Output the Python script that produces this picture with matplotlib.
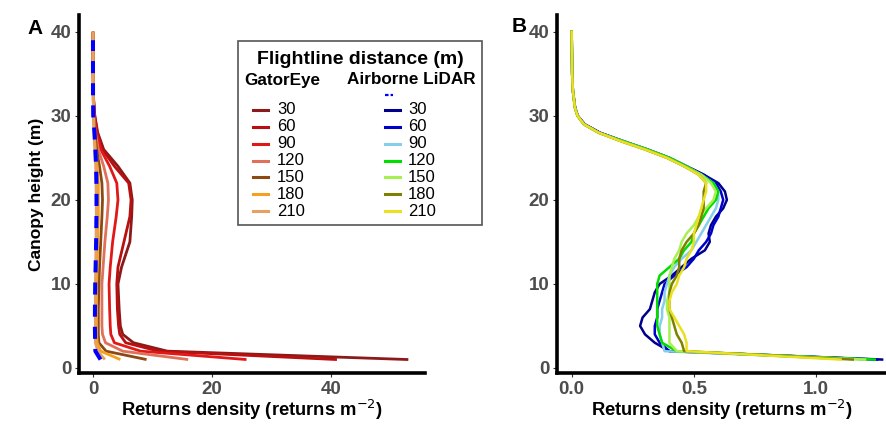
import numpy as np
import matplotlib
matplotlib.use("Agg")
import matplotlib.pyplot as plt
from matplotlib.lines import Line2D
from matplotlib.patches import Rectangle

plt.rcParams['font.family'] = ['Liberation Sans', 'DejaVu Sans']

# ---- data -------------------------------------------------------------
distances = ["30", "60", "90", "120", "150", "180", "210"]

# panel A: GatorEye profiles
heights_a = [1, 2, 3, 4, 5, 7, 10, 12, 15, 18, 20, 22, 24, 26, 28, 30, 32, 35, 40]
gator = {
    "30":  [53.0, 12.5, 6.8, 5.0, 4.6, 4.4, 4.2, 4.8, 6.2, 6.5, 6.6, 6.2, 4.2, 1.8, 0.8, 0.3, 0.1, 0.05, 0.02],
    "60":  [41.0, 11.0, 5.5, 4.5, 4.3, 4.1, 4.0, 4.2, 5.2, 6.2, 6.4, 6.0, 3.6, 1.6, 0.7, 0.3, 0.1, 0.05, 0.02],
    "90":  [25.8, 8.0, 3.6, 3.0, 2.9, 2.8, 2.7, 2.9, 3.3, 3.9, 4.2, 4.0, 2.8, 1.3, 0.6, 0.2, 0.08, 0.04, 0.02],
    "120": [16.0, 5.0, 2.1, 1.6, 1.5, 1.5, 1.5, 1.7, 2.0, 2.4, 2.6, 2.5, 1.8, 0.9, 0.4, 0.15, 0.06, 0.03, 0.02],
    "150": [9.0, 2.2, 1.0, 0.9, 0.9, 0.9, 1.0, 1.1, 1.3, 1.5, 1.6, 1.5, 1.1, 0.6, 0.3, 0.12, 0.05, 0.03, 0.02],
    "180": [4.6, 1.3, 0.7, 0.6, 0.6, 0.6, 0.6, 0.7, 0.8, 0.9, 0.9, 0.9, 0.7, 0.4, 0.2, 0.1, 0.05, 0.03, 0.02],
    "210": [2.0, 0.8, 0.4, 0.4, 0.4, 0.4, 0.4, 0.45, 0.5, 0.55, 0.55, 0.5, 0.45, 0.3, 0.15, 0.08, 0.04, 0.03, 0.02],
}
# mean airborne LiDAR profile shown dashed in panel A
heights_als = [1, 2, 3, 4, 5, 7, 10, 12, 15, 18, 20, 22, 24, 26, 28, 30, 32, 35, 39]
als_mean = [1.27, 0.40, 0.36, 0.34, 0.32, 0.33, 0.37, 0.44, 0.53, 0.58, 0.60, 0.58, 0.52, 0.40, 0.25, 0.04, 0.01, 0.0, 0.0]

# panel B: airborne LiDAR profiles
heights_b = [1, 2, 3, 4, 5, 6, 7, 8, 9, 10, 11, 12, 13, 14, 15, 16, 17, 18, 19, 20,
             21, 22, 23, 24, 25, 26, 27, 28, 29, 30, 31, 33, 35, 40]
lidar = {
    "30":  [1.27, 0.40, 0.34, 0.30, 0.28, 0.29, 0.32, 0.33, 0.34, 0.36, 0.41, 0.45, 0.49, 0.545, 0.565, 0.56, 0.57, 0.59, 0.62, 0.635,
            0.627, 0.60, 0.54, 0.47, 0.40, 0.31, 0.21, 0.115, 0.053, 0.025, 0.014, 0.005, 0.002, 0.0],
    "60":  [1.25, 0.40, 0.36, 0.34, 0.34, 0.35, 0.35, 0.36, 0.37, 0.38, 0.42, 0.47, 0.50, 0.52, 0.55, 0.57, 0.58, 0.60, 0.61, 0.62,
            0.61, 0.59, 0.54, 0.47, 0.40, 0.31, 0.21, 0.115, 0.053, 0.025, 0.014, 0.005, 0.002, 0.0],
    "90":  [1.20, 0.38, 0.37, 0.36, 0.36, 0.37, 0.37, 0.38, 0.38, 0.39, 0.40, 0.42, 0.45, 0.49, 0.51, 0.53, 0.55, 0.57, 0.59, 0.60,
            0.60, 0.58, 0.53, 0.47, 0.40, 0.31, 0.21, 0.11, 0.05, 0.024, 0.013, 0.005, 0.002, 0.0],
    "120": [1.24, 0.43, 0.37, 0.36, 0.35, 0.35, 0.35, 0.35, 0.35, 0.35, 0.36, 0.40, 0.44, 0.46, 0.49, 0.50, 0.52, 0.54, 0.56, 0.59,
            0.60, 0.58, 0.53, 0.47, 0.40, 0.31, 0.21, 0.11, 0.05, 0.024, 0.013, 0.005, 0.002, 0.0],
    "150": [1.20, 0.43, 0.40, 0.40, 0.40, 0.40, 0.39, 0.39, 0.40, 0.40, 0.40, 0.41, 0.42, 0.44, 0.45, 0.47, 0.50, 0.52, 0.55, 0.58,
            0.59, 0.57, 0.53, 0.46, 0.39, 0.30, 0.20, 0.11, 0.05, 0.024, 0.013, 0.005, 0.002, 0.0],
    "180": [1.15, 0.46, 0.45, 0.43, 0.42, 0.41, 0.40, 0.40, 0.40, 0.41, 0.43, 0.44, 0.44, 0.45, 0.47, 0.50, 0.52, 0.53, 0.54, 0.54,
            0.54, 0.55, 0.52, 0.46, 0.39, 0.30, 0.20, 0.11, 0.05, 0.024, 0.013, 0.005, 0.002, 0.0],
    "210": [1.10, 0.47, 0.47, 0.46, 0.44, 0.42, 0.40, 0.40, 0.41, 0.43, 0.44, 0.46, 0.47, 0.49, 0.50, 0.50, 0.51, 0.52, 0.53, 0.54,
            0.55, 0.55, 0.52, 0.46, 0.39, 0.30, 0.20, 0.11, 0.05, 0.024, 0.013, 0.005, 0.002, 0.0],
}

gator_colors = ["#8b1a1a", "#b81010", "#e01818", "#e0705a", "#8b4a13", "#f5a020", "#e8a060"]
lidar_colors = ["#00008b", "#0000cd", "#87ceeb", "#00dd00", "#a8f050", "#808000", "#e8e020"]

# ---- figure -----------------------------------------------------------
W, H = 887, 424
fig = plt.figure(figsize=(W / 100, H / 100), dpi=100)


def fx(x, y):
    return (x / W, 1 - y / H)


axA = fig.add_axes([79 / W, 1 - 373 / H, 346 / W, 358 / H])
axB = fig.add_axes([557 / W, 1 - 373 / H, 330 / W, 358 / H])

for d, c in zip(distances, gator_colors):
    axA.plot(gator[d], heights_a, color=c, lw=2.0, solid_capstyle='butt')
axA.plot(als_mean, heights_als, color="#0000ff", lw=2.9, ls=(0, (3, 2.5)))

for d, c in zip(distances, lidar_colors):
    axB.plot(lidar[d], heights_b, color=c, lw=1.8)

axA.set_xlim(-2.35, 55.8)
axB.set_xlim(-0.06, 1.29)
axA.set_xticks([0, 20, 40])
axB.set_xticks([0.0, 0.5, 1.0])
axB.set_xticklabels(["0.0", "0.5", "1.0"])

for ax in (axA, axB):
    ax.set_ylim(-0.6, 42.0)
    ax.set_yticks([0, 10, 20, 30, 40])
    for s in ("top", "right"):
        ax.spines[s].set_visible(False)
    for s in ("left", "bottom"):
        ax.spines[s].set_linewidth(2.6)
        ax.spines[s].set_color("black")
    ax.tick_params(length=3, width=0.8, color="#333333", labelsize=13.5,
                   labelcolor="#4d4d4d", pad=2.5)
    for lab in ax.get_xticklabels() + ax.get_yticklabels():
        lab.set_fontweight("bold")
    ax.set_xlabel("Returns density (returns m$^{-2}$)", fontsize=13.2,
                  fontweight="bold", labelpad=0)

axA.set_ylabel("Canopy height (m)", fontsize=12.5, fontweight="bold", labelpad=5)

fig.text(*fx(35, 28), "A", fontsize=15, fontweight="bold", ha="center", va="center")
fig.text(*fx(519, 26), "B", fontsize=15, fontweight="bold", ha="center", va="center")

# ---- legend (drawn by hand to get the two-column layout) -------------
x0, y0 = fx(238, 225)
x1, y1 = fx(482, 41)
fig.add_artist(Rectangle((x0, y0), x1 - x0, y1 - y0, transform=fig.transFigure,
                         facecolor="white", edgecolor="#555555", lw=1.2, zorder=5))
fig.text(*fx(360, 59), "Flightline distance (m)", fontsize=14, fontweight="bold",
         ha="center", va="center", zorder=6)
fig.text(*fx(244, 80), "GatorEye", fontsize=12.3, fontweight="bold",
         ha="left", va="center", zorder=6)
fig.text(*fx(347, 80), "Airborne LiDAR", fontsize=12.3, fontweight="bold",
         ha="left", va="center", zorder=6)
kx0, ky = fx(385, 95)
kx1, _ = fx(393, 95)
fig.add_artist(Line2D([kx0, kx1], [ky, ky], transform=fig.transFigure,
                      color="#0000ff", lw=1.6, dashes=(1.6, 0.9), zorder=6))

row_y = np.linspace(110, 211, len(distances))
for i, d in enumerate(distances):
    for (kl, kr, tx), col in (((253, 268, 277), gator_colors[i]),
                              ((385, 400, 408), lidar_colors[i])):
        a, yy = fx(kl, row_y[i])
        b, _ = fx(kr, row_y[i])
        fig.add_artist(Line2D([a, b], [yy, yy], transform=fig.transFigure,
                              color=col, lw=2.2, zorder=6))
        fig.text(*fx(tx, row_y[i]), d, fontsize=12, ha="left", va="center", zorder=6)

fig.savefig("out.png", dpi=100)
